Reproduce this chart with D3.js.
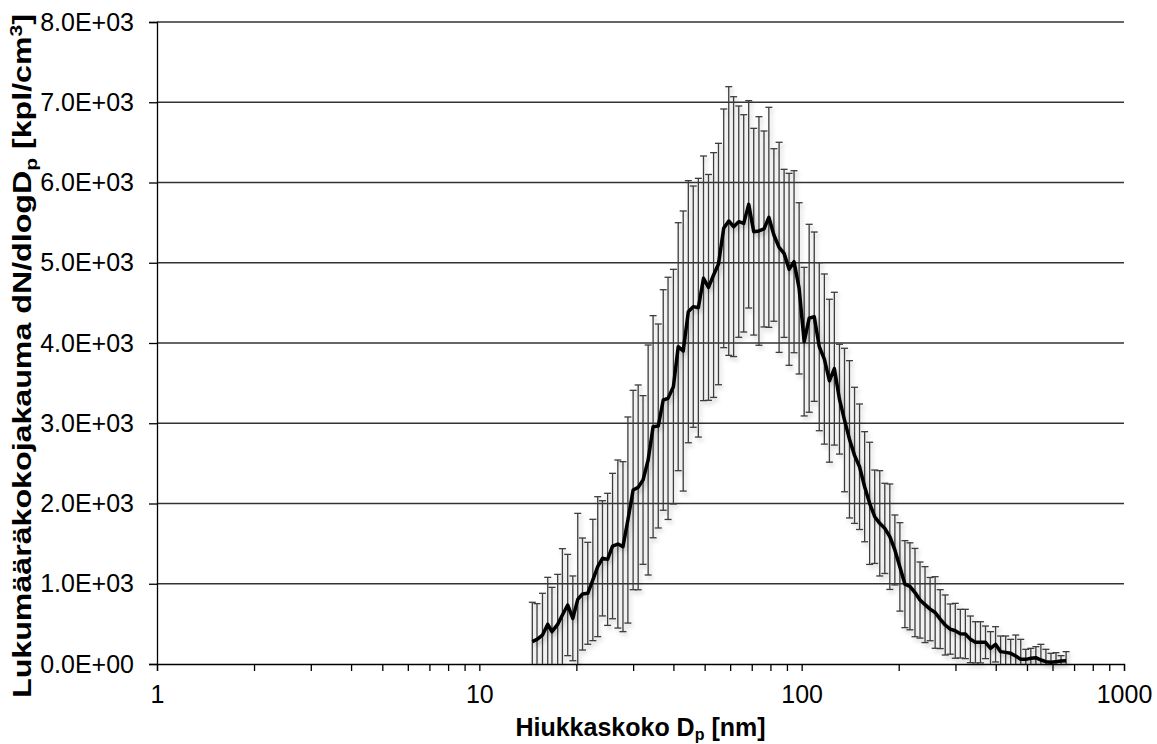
<!DOCTYPE html>
<html>
<head>
<meta charset="utf-8">
<script src="https://cdn.jsdelivr.net/npm/d3@7"></script>
<style>
  body { margin: 0; background: #fff; }
  text { font-family: Arial, "Liberation Sans", sans-serif; fill: #000; }
</style>
</head>
<body>
<script>
// hiukkaskoot (nm), SMPS kanavat
var diameters = [14.6, 15.1, 15.7, 16.3, 16.8, 17.5, 18.1, 18.8, 19.5, 20.2,
  20.9, 21.7, 22.5, 23.3, 24.1, 25.0, 25.9, 26.9, 27.9, 28.9,
  30.0, 31.1, 32.2, 33.4, 34.6, 35.9, 37.2, 38.5, 40.0, 41.4,
  42.9, 44.5, 46.1, 47.8, 49.6, 51.4, 53.3, 55.2, 57.3, 59.4,
  61.5, 63.8, 66.1, 68.5, 71.0, 73.7, 76.4, 79.1, 82.0, 85.1,
  88.2, 91.4, 94.7, 98.2, 101.8, 105.5, 109.4, 113.4, 117.6, 121.9,
  126.3, 131.0, 135.8, 140.7, 145.9, 151.2, 156.8, 162.5, 168.5, 174.7,
  181.1, 187.7, 194.6, 201.7, 209.1, 216.7, 224.7, 232.9, 241.4, 250.3,
  259.5, 269.0, 278.8, 289.0, 299.6, 310.6, 322.0, 333.8, 346.0, 358.7,
  371.8, 385.4, 399.5, 414.2, 429.4, 445.1, 461.4, 478.3, 495.8, 514.0,
  532.8, 552.3, 572.5, 593.5, 615.3, 637.8, 661.2];

// keskiarvo dN/dlogDp
var meanConc = [278, 307, 361, 494, 403, 494, 611, 735, 569, 806,
  872, 881, 1047, 1213, 1317, 1304, 1470, 1495, 1462, 1794,
  2168, 2201, 2293, 2542, 2957, 2966, 3290, 3310, 3456, 3954,
  3900, 4390, 4453, 4440, 4806, 4693, 4847, 4984, 5429, 5520,
  5450, 5512, 5491, 5728, 5387, 5396, 5421, 5566, 5346, 5192,
  5117, 4918, 5013, 4681, 4017, 4308, 4328, 3954, 3800, 3530,
  3680, 3300, 3040, 2800, 2600, 2458, 2209, 2002, 1835, 1753,
  1690, 1586, 1421, 1210, 995, 968, 890, 797, 740, 684,
  642, 559, 486, 435, 414, 378, 374, 307, 270, 270,
  270, 195, 245, 154, 145, 133, 100, 58, 58, 71,
  79, 50, 29, 21, 29, 37, 41];

// keskihajonta (virhepalkit)
var stdConc = [491, 445, 520, 586, 552, 623, 826, 631, 528, 1071,
  698, 635, 756, 872, 718, 823, 906, 1047, 1059, 1284,
  1242, 1276, 1051, 1433, 1384, 1271, 1374, 1509, 1462, 1545,
  1745, 1633, 1503, 1612, 1524, 1407, 1525, 1504, 1487, 1674,
  1619, 1441, 1354, 1292, 1288, 1424, 1221, 1371, 1075, 1309,
  1047, 1196, 1134, 1067, 926, 1171, 1055, 1047, 1060, 1015,
  952, 684, 894, 980, 848, 782, 686, 761, 582, 656,
  562, 657, 436, 551, 542, 542, 550, 474, 473, 394,
  446, 367, 374, 313, 342, 303, 307, 291, 257, 257,
  203, 208, 220, 195, 204, 174, 261, 249, 125, 124,
  137, 195, 154, 112, 112, 67, 113];

var yTicks = [0, 1000, 2000, 3000, 4000, 5000, 6000, 7000, 8000];
var xLabels = [1, 10, 100, 1000];

var width = 1157, height = 744;
var margin = {left: 157, right: 33, top: 22, bottom: 80};

var svg = d3.select("body").append("svg")
  .attr("width", width)
  .attr("height", height);

var defs = svg.append("defs");
var shadow = defs.append("filter").attr("id", "shadow")
  .attr("x", "-20%").attr("y", "-20%").attr("width", "140%").attr("height", "140%");
shadow.append("feDropShadow")
  .attr("dx", 2).attr("dy", 3).attr("stdDeviation", 2)
  .attr("flood-color", "#000").attr("flood-opacity", 0.22);

var x = d3.scaleLog().domain([1, 1000]).range([margin.left, width - margin.right]);
var y = d3.scaleLinear().domain([0, 8000]).range([height - margin.bottom, margin.top]);

function sci(v) {
  if (v === 0) return "0.0E+00";
  var e = Math.floor(Math.log10(v));
  var m = v / Math.pow(10, e);
  return m.toFixed(1) + "E+" + (e < 10 ? "0" : "") + e;
}

// vaakasuorat apuviivat
svg.append("g").attr("class", "grid")
  .selectAll("line")
  .data(yTicks.filter(function(d) { return d > 0; }))
  .enter().append("line")
  .attr("x1", x(1)).attr("x2", x(1000))
  .attr("y1", function(d) { return y(d); })
  .attr("y2", function(d) { return y(d); })
  .attr("stroke", "#333")
  .attr("stroke-width", 1.5);

// y-akseli
var yAxis = svg.append("g")
  .attr("transform", "translate(" + margin.left + ",0)")
  .call(d3.axisLeft(y).tickValues(yTicks).tickSize(8).tickPadding(15).tickFormat(sci));
yAxis.selectAll("text").style("font-size", "25px");

// x-akseli
var xAxis = svg.append("g")
  .attr("transform", "translate(0," + y(0) + ")")
  .call(d3.axisBottom(x).tickValues(x.ticks()).tickSize(7).tickPadding(14)
    .tickFormat(function(d) { return xLabels.indexOf(d) >= 0 ? d : ""; }));
xAxis.selectAll("text").style("font-size", "25px");

svg.selectAll(".domain").attr("stroke", "#000").attr("stroke-width", 1.3);
svg.selectAll(".tick line").attr("stroke", "#000").attr("stroke-width", 1.3);

// virhepalkit
var data = diameters.map(function(d, i) {
  return {d: d, m: meanConc[i], s: stdConc[i]};
});
var capW = 3.5;
var bars = svg.append("g").attr("class", "errorbars")
  .attr("stroke", "#3c3c3c").attr("stroke-width", 1.3)
  .attr("filter", "url(#shadow)");

var eb = bars.selectAll("g").data(data).enter().append("g");
eb.append("line")
  .attr("x1", function(d) { return x(d.d); })
  .attr("x2", function(d) { return x(d.d); })
  .attr("y1", function(d) { return y(d.m + d.s); })
  .attr("y2", function(d) { return y(Math.max(0, d.m - d.s)); });
eb.append("line")
  .attr("x1", function(d) { return x(d.d) - capW; })
  .attr("x2", function(d) { return x(d.d) + capW; })
  .attr("y1", function(d) { return y(d.m + d.s); })
  .attr("y2", function(d) { return y(d.m + d.s); });
eb.filter(function(d) { return d.m - d.s > 0; }).append("line")
  .attr("x1", function(d) { return x(d.d) - capW; })
  .attr("x2", function(d) { return x(d.d) + capW; })
  .attr("y1", function(d) { return y(d.m - d.s); })
  .attr("y2", function(d) { return y(d.m - d.s); });

// keskiarvokäyrä
var line = d3.line()
  .x(function(d) { return x(d.d); })
  .y(function(d) { return y(d.m); });

svg.append("path")
  .datum(data)
  .attr("d", line)
  .attr("fill", "none")
  .attr("stroke", "#000")
  .attr("stroke-width", 3.5)
  .attr("stroke-linejoin", "round")
  .attr("filter", "url(#shadow)");

// akselien otsikot
var xTitle = svg.append("text")
  .attr("x", (x(1) + x(1000)) / 2)
  .attr("y", 736)
  .attr("text-anchor", "middle")
  .style("font-size", "25px")
  .style("font-weight", "bold");
xTitle.append("tspan").text("Hiukkaskoko D");
xTitle.append("tspan").attr("dy", 4).style("font-size", "16px").text("p");
xTitle.append("tspan").attr("dy", -4).text(" [nm]");

// pystyakselin otsikko venytetty alkuperäisen mukaan
var yTitle = svg.append("text")
  .attr("transform", "translate(31," + 356 + ") rotate(-90)")
  .attr("text-anchor", "middle")
  .attr("textLength", 684)
  .attr("lengthAdjust", "spacingAndGlyphs")
  .style("font-size", "26px")
  .style("font-weight", "bold");
yTitle.append("tspan").text("Lukumääräkokojakauma dN/dlogD");
yTitle.append("tspan").attr("dy", 6).style("font-size", "17px").text("p");
yTitle.append("tspan").attr("dy", -6).text(" [kpl/cm");
yTitle.append("tspan").attr("dy", -9).style("font-size", "17px").text("3");
yTitle.append("tspan").attr("dy", 9).text("]");
</script>
</body>
</html>
